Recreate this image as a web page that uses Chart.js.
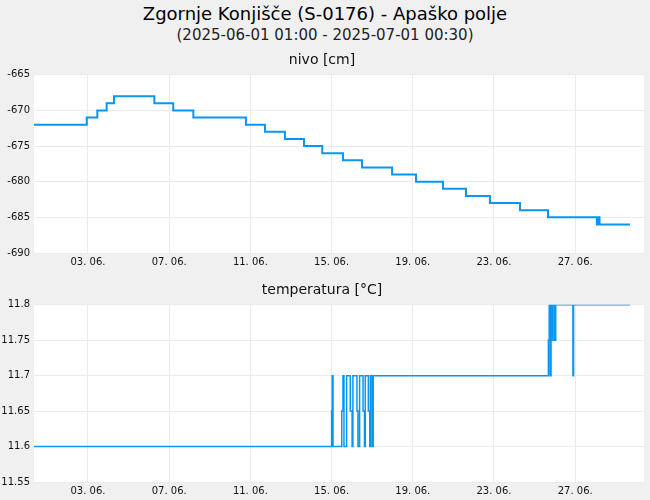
<!DOCTYPE html>
<html>
<head>
<meta charset="utf-8">
<script src="https://cdn.jsdelivr.net/npm/chart.js@4"></script>
<style>
  body { margin: 0; background: #f0f0f0; font-family: "DejaVu Sans", sans-serif; }
  #title { position: absolute; top: 3px; width: 650px; text-align: center; font-size: 18px; color: #000; }
  #subtitle { position: absolute; top: 26px; width: 650px; text-align: center; font-size: 15px; color: #222; }
  .box { position: absolute; left: 0; width: 650px; }
</style>
</head>
<body>
<div id="title">Zgornje Konjišče (S-0176) - Apaško polje</div>
<div id="subtitle">(2025-06-01 01:00 - 2025-07-01 00:30)</div>
<div class="box" style="top:49px;height:222px"><canvas id="c1"></canvas></div>
<div class="box" style="top:279px;height:221px"><canvas id="c2"></canvas></div>
<script>
// x values are days after 01.06. 00:00
const xMin = -0.66;
const xMax = 29.39;
const tickDays = [2, 6, 10, 14, 18, 22, 26];
const tickLabels = ['03. 06.', '07. 06.', '11. 06.', '15. 06.', '19. 06.', '23. 06.', '27. 06.'];

// level: start of each step and its value
const levelStart = [-0.66, 1.94, 2.46, 2.92, 3.28, 5.27, 6.20, 7.19, 9.78, 10.72, 11.70, 12.64, 13.54,
  14.56, 15.50, 16.98, 18.16, 19.49, 20.62, 21.80, 23.28, 24.66, 27.07, 27.12, 27.20, 28.70];
const levelValue = [-672, -671, -670, -669, -668, -669, -670, -671, -672, -673, -674, -675, -676,
  -677, -678, -679, -680, -681, -682, -683, -684, -685, -686, -685, -686, -686];

// temperature: start of each step and its value
const tempStart = [-0.66, 14.00, 14.03, 14.07, 14.50, 14.56, 14.61, 14.74, 14.92, 15.01, 15.05, 15.25,
  15.30, 15.38, 15.55, 15.62, 15.66, 15.81, 15.88, 15.91, 15.99, 16.05, 24.68, 24.72, 24.76, 24.81,
  24.86, 24.91, 24.99, 25.04, 25.89, 25.92, 28.70];
const tempValue = [11.6, 11.65, 11.7, 11.6, 11.65, 11.7, 11.6, 11.7, 11.65, 11.6, 11.7, 11.65,
  11.6, 11.7, 11.65, 11.6, 11.7, 11.65, 11.6, 11.7, 11.6, 11.7, 11.75, 11.8, 11.7, 11.8,
  11.75, 11.8, 11.75, 11.8, 11.7, 11.8, 11.8];

const whiteArea = {
    id: 'whiteArea',
    beforeDraw(chart) {
        const a = chart.chartArea;
        chart.ctx.save();
        chart.ctx.fillStyle = '#fff';
        chart.ctx.fillRect(a.left, a.top, a.right - a.left, a.bottom - a.top);
        chart.ctx.restore();
    }
};

function makeChart(id, title, xs, ys, yMin, yMax, yStep, lineWidth) {
    const pts = xs.map((x, i) => ({ x: x, y: ys[i] }));
    return new Chart(document.getElementById(id), {
        type: 'line',
        data: {
            datasets: [{
                data: pts,
                stepped: 'before',
                borderColor: '#0896f0',
                borderWidth: lineWidth,
                pointRadius: 0,
                fill: false
            }]
        },
        options: {
            responsive: true,
            maintainAspectRatio: false,
            animation: false,
            layout: { padding: { left: 0, right: 6, top: 0, bottom: 0 } },
            plugins: {
                legend: { display: false },
                tooltip: { enabled: false },
                title: {
                    display: true,
                    text: title,
                    color: '#111',
                    font: { family: "'DejaVu Sans'", size: 14, weight: 'normal' },
                    padding: { top: 3, bottom: 6 }
                }
            },
            scales: {
                x: {
                    type: 'linear',
                    min: xMin,
                    max: xMax,
                    afterBuildTicks: (axis) => { axis.ticks = tickDays.map(v => ({ value: v })); },
                    ticks: {
                        autoSkip: false,
                        maxRotation: 0,
                        color: '#111',
                        font: { family: "'DejaVu Sans'", size: 10 },
                        callback: (v) => tickLabels[tickDays.indexOf(v)]
                    },
                    grid: { color: '#ebebeb', drawTicks: false },
                    border: { display: false }
                },
                y: {
                    min: yMin,
                    max: yMax,
                    afterFit: (axis) => { axis.width = 34; },
                    ticks: {
                        stepSize: yStep,
                        color: '#111',
                        font: { family: "'DejaVu Sans'", size: 10 },
                        padding: 4,
                        callback: (v) => String(Math.round(v * 100) / 100)
                    },
                    grid: { color: '#ebebeb', drawTicks: false },
                    border: { display: false }
                }
            }
        },
        plugins: [whiteArea]
    });
}

makeChart('c1', 'nivo [cm]', levelStart, levelValue, -690, -665, 5, 2);
makeChart('c2', 'temperatura [°C]', tempStart, tempValue, 11.55, 11.8, 0.05, 1.5);
</script>
</body>
</html>
